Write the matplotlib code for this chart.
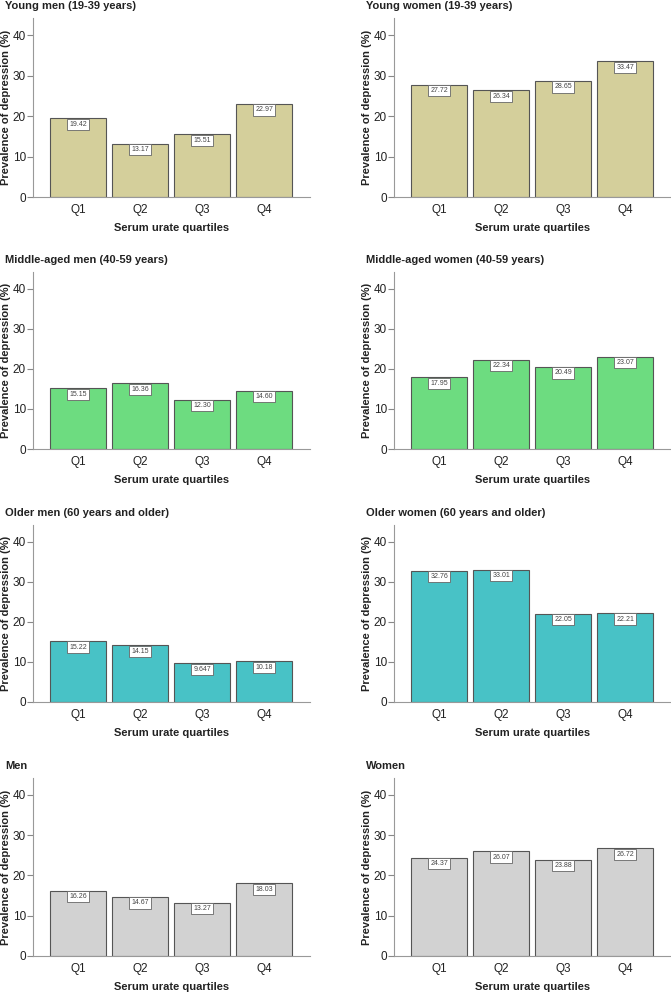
import matplotlib
matplotlib.use('Agg')
import matplotlib.pyplot as plt

plt.rcParams['font.family'] = ['Liberation Sans', 'DejaVu Sans']

quartiles = ['Q1', 'Q2', 'Q3', 'Q4']

young_men = [19.42, 13.17, 15.51, 22.97]
young_women = [27.72, 26.34, 28.65, 33.47]
middle_men = [15.15, 16.36, 12.30, 14.60]
middle_women = [17.95, 22.34, 20.49, 23.07]
older_men = [15.22, 14.15, 9.647, 10.18]
older_women = [32.76, 33.01, 22.05, 22.21]
all_men = [16.26, 14.67, 13.27, 18.03]
all_women = [24.37, 26.07, 23.88, 26.72]

titles = ['Young men (19-39 years)', 'Young women (19-39 years)',
          'Middle-aged men (40-59 years)', 'Middle-aged women (40-59 years)',
          'Older men (60 years and older)', 'Older women (60 years and older)',
          'Men', 'Women']
series = [young_men, young_women, middle_men, middle_women,
          older_men, older_women, all_men, all_women]
row_colors = ['#d4cf9b', '#6ddc80', '#48c2c6', '#d2d2d2']

W, H = 671, 992
fig = plt.figure(figsize=(W / 100, H / 100), dpi=100)

# pixel layout (top, bottom) for each row
rows = [(18, 197), (272, 449), (525, 702), (778, 956)]
cols = [33, 394]
ax_w = 277

for i, (title, vals) in enumerate(zip(titles, series)):
    r, c = divmod(i, 2)
    top, bot = rows[r]
    ax = fig.add_axes([cols[c] / W, 1 - bot / H, ax_w / W, (bot - top) / H])
    x = range(len(quartiles))
    bars = ax.bar(x, vals, width=0.9, color=row_colors[r], edgecolor='#555555', linewidth=0.8)
    ax.set_xlim(-0.73, 3.74)
    ax.set_ylim(0, 44.2)
    ax.set_yticks([0, 10, 20, 30, 40])
    ax.set_xticks(list(x))
    ax.set_xticklabels(quartiles)
    ax.tick_params(axis='x', length=0, pad=5, labelsize=8.5, colors='#222222')
    ax.tick_params(axis='y', length=4, width=0.8, color='#888888', pad=1, labelsize=8.5, labelcolor='#222222')
    for s in ['top', 'right']:
        ax.spines[s].set_visible(False)
    for s in ['left', 'bottom']:
        ax.spines[s].set_color('#999999')
        ax.spines[s].set_linewidth(0.8)

    for b, v in zip(bars, vals):
        ax.annotate('{:#.4g}'.format(v), (b.get_x() + b.get_width() / 2, v),
                    xytext=(0, -6), textcoords='offset pixels',
                    ha='center', va='center', fontsize=5, color='#444444',
                    bbox=dict(boxstyle='square,pad=0.3', fc='white', ec='#666666', lw=0.6))

    ax.text(-28 / ax_w, 1 + 12 / (bot - top), title, transform=ax.transAxes,
            ha='left', va='center', fontsize=8, fontweight='bold', color='#222222')
    ax.set_ylabel('Prevalence of depression (%)', fontsize=8, fontweight='bold', color='#222222')
    ax.yaxis.set_label_coords(-22 / ax_w, 0.5)
    ax.set_xlabel('Serum urate quartiles', fontsize=8, fontweight='bold', color='#222222', labelpad=5)

fig.savefig('out.png', dpi=100)
